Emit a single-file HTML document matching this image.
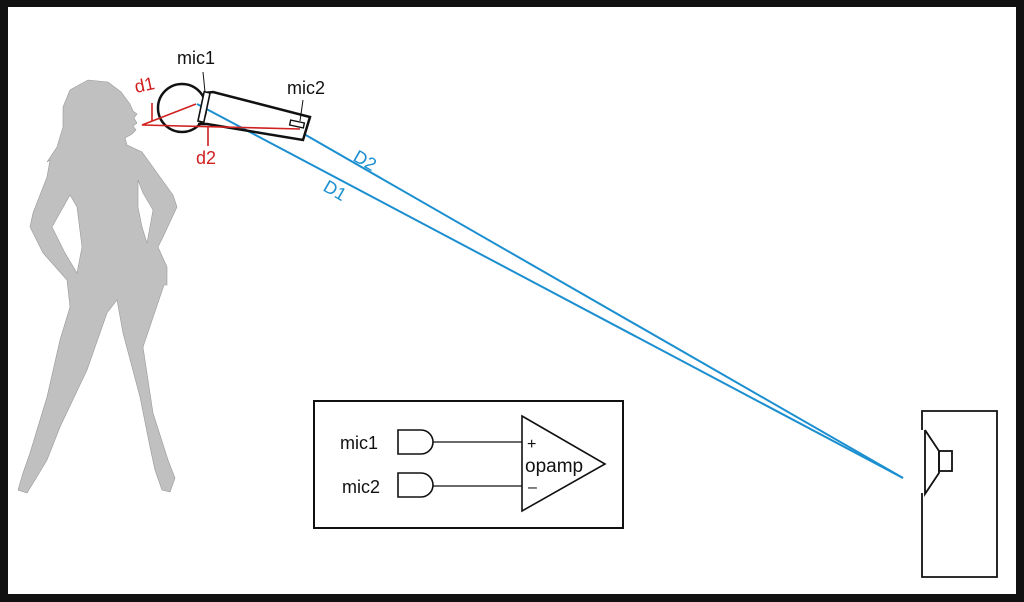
<!DOCTYPE html>
<html><head><meta charset="utf-8"><style>
html,body{margin:0;padding:0;background:#fff}
svg{display:block}
text{font-family:"Liberation Sans",sans-serif}
</style></head><body>
<svg width="1024" height="602" viewBox="0 0 1024 602" xmlns="http://www.w3.org/2000/svg">
<rect x="0" y="0" width="1024" height="602" fill="#111"/>
<rect x="8" y="7" width="1008" height="587" fill="#fff"/>
<!-- silhouette -->
<path fill="#c0c0c0" stroke="#999" stroke-width="0.6" fill-rule="evenodd" d="M88,80 L108,82 L121,92 L130,104 L133,111 L137,114 L134,118 L137,123 L133,126 L136,130 L132,134 L125,138 L127,145 L142,152 L150,163 L160,177 L173,195 L177,207 L163,237 L158,247 L167,267 L167,285 L164,285 L143,347 L153,413 L168,460 L175,478 L170,492 L162,490 L155,470 L150,447 L140,397 L123,333 L117,300 L107,313 L87,370 L60,427 L47,460 L35,480 L27,493 L18,490 L23,473 L30,453 L47,397 L60,340 L70,307 L67,280 L43,253 L30,227 L33,213 L47,177 L50,160 L47,162 L57,147 L63,127 L63,107 L70,90 Z M70,195 L77,207 L82,247 L77,273 L65,253 L52,227 Z M138,180 L143,193 L153,210 L147,243 L142,227 L138,207 Z"/>
<!-- blue lines -->
<g stroke="#1b8fd0" stroke-width="2" fill="none">
<line x1="197" y1="104" x2="903" y2="478"/>
<line x1="304" y1="134" x2="903" y2="478"/>
</g>
<text x="352" y="160" font-size="18" fill="#1b8fd0" transform="rotate(30 352 160)">D2</text>
<text x="322" y="190" font-size="18" fill="#1b8fd0" transform="rotate(30 322 190)">D1</text>
<!-- mic -->
<g stroke="#111" stroke-width="2.5" fill="none">
<circle cx="182" cy="108" r="24"/>
<polyline points="204,93 213,92 310,117 303,140 207,124 198,124"/>
</g>
<rect x="-3" y="-15" width="6" height="30" fill="#fff" stroke="#111" stroke-width="1.6" transform="translate(204,107) rotate(12)"/>
<rect x="-7" y="-2.5" width="14" height="5" fill="#fff" stroke="#111" stroke-width="1.4" transform="translate(297,124) rotate(12)"/>
<line x1="203" y1="72" x2="205" y2="92" stroke="#111" stroke-width="1"/>
<line x1="303" y1="100" x2="300" y2="121" stroke="#111" stroke-width="1"/>
<!-- red -->
<g stroke="#d02020" stroke-width="1.6" fill="none">
<polyline points="196,104 142,125 300,129"/>
<line x1="152" y1="103" x2="152" y2="121"/>
<line x1="208" y1="126" x2="208" y2="146"/>
</g>
<text x="136" y="93" font-size="18" fill="#d02020" transform="rotate(-12 136 93)">d1</text>
<text x="196" y="164" font-size="18" fill="#d02020">d2</text>
<text x="177" y="64" font-size="18" fill="#111">mic1</text>
<text x="287" y="94" font-size="18" fill="#111">mic2</text>
<!-- speaker -->
<g stroke="#111" stroke-width="1.8" fill="none">
<polyline points="922,430 922,411 997,411 997,577 922,577 922,493"/>
<polyline points="925,430 939,451 939,473 925,494 925,430"/>
<rect x="939" y="451" width="13" height="20"/>
</g>
<!-- opamp box -->
<g stroke="#111" stroke-width="2" fill="none">
<rect x="314" y="401" width="309" height="127"/>
<path d="M398,430 H421 A12,12 0 0 1 421,454 H398 Z" stroke-width="1.6"/>
<path d="M398,473 H421 A12,12 0 0 1 421,497 H398 Z" stroke-width="1.6"/>
<line x1="433" y1="442" x2="522" y2="442" stroke-width="1.3"/>
<line x1="433" y1="486" x2="522" y2="486" stroke-width="1.3"/>
<polygon points="522,416 605,464 522,511" stroke-width="1.6"/>
</g>
<text x="340" y="449" font-size="18" fill="#111">mic1</text>
<text x="342" y="493" font-size="18" fill="#111">mic2</text>
<text x="527" y="449" font-size="16" fill="#111">+</text>
<text x="525" y="472" font-size="19" fill="#111">opamp</text>
<text x="528" y="492" font-size="16" fill="#111">–</text>
</svg>
</body></html>
